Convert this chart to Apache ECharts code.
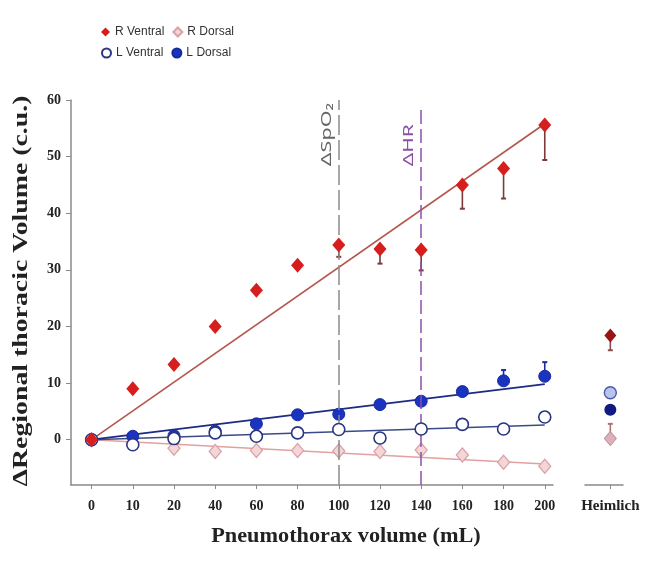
<!DOCTYPE html>
<html>
<head>
<meta charset="utf-8">
<script src="https://cdn.jsdelivr.net/npm/echarts@6/dist/echarts.min.js"></script>
<style>
html,body{margin:0;padding:0;background:#fff;}
#chart{width:645px;height:568px;}
</style>
</head>
<body>
<div id="chart"></div>
<script>
// ---- data ----
var categories = ['0','10','20','40','60','80','100','120','140','160','180','200'];
var yTicks = [0,10,20,30,40,50,60];
var rVentral = [0, 9.0, 13.3, 20.0, 26.4, 30.8, 34.4, 33.7, 33.5, 45.0, 47.9, 55.6];
var rVentralLow = [null, null, null, null, null, null, 32.3, 31.1, 29.9, 40.8, 42.6, 49.4];
var rDorsal = [0, -0.6, -1.5, -2.1, -1.9, -1.9, -2.0, -2.1, -1.8, -2.7, -4.0, -4.7];
var lVentral = [0, -0.9, 0.2, 1.2, 0.6, 1.2, 1.8, 0.3, 1.9, 2.7, 1.9, 4.0];
var lDorsal = [0, 0.6, 0.7, 1.5, 2.8, 4.4, 4.5, 6.2, 6.8, 8.5, 10.4, 11.2];
var lDorsalHigh = [null, null, null, null, null, null, null, null, null, null, 12.3, 13.7];
// regression line end values (at 0 and at 200 mL)
var fitRVentral = [0, 55.8];
var fitRDorsal = [0, -4.3];
var fitLVentral = [0, 2.6];
var fitLDorsal = [0, 9.8];
// Heimlich values
var heimlich = {rVentral: 18.4, rVentralLow: 15.8, lVentral: 8.3, lDorsal: 5.3, rDorsal: 0.2, rDorsalHigh: 2.8};
// event markers: category, top of line (value), label start (value)
var markers = [
  {name:'\u0394SpO\u2082', at:'100', top:60, labelAt:48.3, color:'#8a8a8a', textColor:'#666', dash:[20,5], fontSize:15, stretch:1.44},
  {name:'\u0394HR', at:'140', top:58.3, labelAt:48.3, color:'#8a50a8', textColor:'#8a50a8', dash:[14,5], fontSize:14, stretch:1.5}
];

// ---- build ----
function pts(arr){ return arr.map(function(v,i){ return [i, v]; }); }
function errs(vals, ends){
  var out = [];
  ends.forEach(function(e,i){ if(e!==null) out.push([i, vals[i], e]); });
  return out;
}
var last = categories.length - 1;
function fit(a){ return [[0, a[0]], [last, a[1]]]; }

function errRender(color){
  return function(params, api){
    var x = api.value(0), v = api.value(1), e = api.value(2);
    var p1 = api.coord([x, v]), p2 = api.coord([x, e]);
    return {type:'group', children:[
      {type:'line', shape:{x1:p1[0], y1:p1[1], x2:p2[0], y2:p2[1]}, style:{stroke:color, lineWidth:1.6}},
      {type:'line', shape:{x1:p2[0]-2.5, y1:p2[1], x2:p2[0]+2.5, y2:p2[1]}, style:{stroke:color, lineWidth:2}}
    ]};
  };
}

var serif = 'Liberation Serif, Times New Roman, serif';
var axisLineStyle = {color:'#8a8a8a', width:1.5};
var mkIdx = function(c){ return categories.indexOf(c); };
var idx = categories.map(function(c,i){return i;});

var option = {
  backgroundColor:'#fff',
  animation:false,
  legend:[
    {left:96, top:21, itemWidth:9, itemHeight:9, itemGap:8, selectedMode:false,
     textStyle:{fontFamily:'Liberation Sans, Arial, sans-serif', fontSize:12, color:'#333'},
     data:['R Ventral','R Dorsal']},
    {left:96, top:42, itemWidth:9, itemHeight:9, itemGap:8, selectedMode:false,
     textStyle:{fontFamily:'Liberation Sans, Arial, sans-serif', fontSize:12, color:'#333'},
     data:['L Ventral','L Dorsal']}
  ],
  grid:[
    {left:71, top:100, width:482, height:385, outerBoundsMode:'none', containLabel:false},
    {left:585, top:100, width:38, height:385, outerBoundsMode:'none', containLabel:false}
  ],
  xAxis:[
    {type:'value', gridIndex:0, min:-0.5, max:11.2,
     axisLine:{show:true, onZero:false, lineStyle:axisLineStyle},
     axisTick:{show:true, customValues:idx, length:4, lineStyle:{color:'#8a8a8a'}},
     axisLabel:{customValues:idx, formatter:function(v){return categories[Math.round(v)];},
                fontFamily:serif, fontWeight:'bold', fontSize:14, color:'#222', margin:14},
     splitLine:{show:false}},
    {type:'value', gridIndex:1, min:-1, max:0.5,
     axisLine:{show:true, onZero:false, lineStyle:axisLineStyle},
     axisTick:{show:true, customValues:[0], length:4, lineStyle:{color:'#8a8a8a'}},
     axisLabel:{customValues:[0], formatter:function(){return 'Heimlich';},
                fontFamily:serif, fontWeight:'bold', fontSize:15, color:'#222', margin:14},
     splitLine:{show:false}}
  ],
  yAxis:[
    {type:'value', gridIndex:0, min:-8, max:60,
     axisLine:{show:true, onZero:false, lineStyle:axisLineStyle},
     axisTick:{show:true, customValues:yTicks, length:5, lineStyle:{color:'#8a8a8a'}},
     axisLabel:{customValues:yTicks, fontFamily:serif, fontWeight:'bold', fontSize:14, color:'#222', margin:10},
     splitLine:{show:false}},
    {type:'value', gridIndex:1, min:-8, max:60, show:false}
  ],
  graphic:[
    {type:'text', id:'ytitle', x:22, y:291, rotation:Math.PI/2, scaleX:1.39,
     style:{text:'\u0394Regional thoracic Volume (c.u.)', font:'bold 20px ' + serif, fill:'#222',
            textAlign:'center', textVerticalAlign:'middle'}},
    {type:'text', id:'xtitle', x:346, y:537, scaleX:1.06,
     style:{text:'Pneumothorax volume (mL)', font:'bold 21px ' + serif, fill:'#222',
            textAlign:'center', textVerticalAlign:'middle'}}
  ],
  series:[
    // regression lines
    {type:'line', name:'fitRV', data:fit(fitRVentral), symbol:'none', lineStyle:{color:'#b5564e', width:1.6}, z:1, silent:true},
    {type:'line', name:'fitRD', data:fit(fitRDorsal), symbol:'none', lineStyle:{color:'#e2a0a0', width:1.6}, z:1, silent:true},
    {type:'line', name:'fitLV', data:fit(fitLVentral), symbol:'none', lineStyle:{color:'#3a4a88', width:1.6}, z:1, silent:true},
    {type:'line', name:'fitLD', data:fit(fitLDorsal), symbol:'none', lineStyle:{color:'#1c2a88', width:1.8}, z:1, silent:true,
     markLine:{silent:true, symbol:'none', label:{show:false},
       data: markers.map(function(m){
         return [
           {coord:[mkIdx(m.at), -8], lineStyle:{color:m.color, width:1.5, type:m.dash}},
           {coord:[mkIdx(m.at), m.top]}
         ];
       })}},
    // error bars
    {type:'custom', name:'errRV', data:errs(rVentral, rVentralLow), renderItem:errRender('#7a3a3a'), z:2, encode:{x:0, y:[1,2]}, silent:true},
    {type:'custom', name:'errLD', data:errs(lDorsal, lDorsalHigh), renderItem:errRender('#1a2aa0'), z:2, encode:{x:0, y:[1,2]}, silent:true},
    // points
    {type:'scatter', name:'R Dorsal', data:pts(rDorsal), symbol:'diamond', symbolSize:[12,14],
     itemStyle:{color:'#f4d6d6', borderColor:'#d9a2aa', borderWidth:1.3, opacity:1}, z:3},
    {type:'scatter', name:'L Dorsal', data:pts(lDorsal), symbol:'circle', symbolSize:12,
     itemStyle:{color:'#1a33c0', borderColor:'#1a2a9a', borderWidth:1, opacity:1}, z:4},
    {type:'scatter', name:'L Ventral', data:pts(lVentral), symbol:'circle', symbolSize:12,
     itemStyle:{color:'#ffffff', borderColor:'#2b3580', borderWidth:1.6, opacity:1}, z:5},
    {type:'scatter', name:'R Ventral', data:pts(rVentral), symbol:'diamond', symbolSize:[13,15],
     itemStyle:{color:'#d61e1e', opacity:1}, z:6},
    // Heimlich panel
    {type:'custom', name:'errH', xAxisIndex:1, yAxisIndex:1,
     data:[[0, heimlich.rVentral, heimlich.rVentralLow]], renderItem:errRender('#8a5050'), encode:{x:0, y:[1,2]}, z:2, silent:true},
    {type:'custom', name:'errH2', xAxisIndex:1, yAxisIndex:1,
     data:[[0, heimlich.rDorsal, heimlich.rDorsalHigh]], renderItem:errRender('#b07070'), encode:{x:0, y:[1,2]}, z:2, silent:true},
    {type:'scatter', name:'H R Ventral', xAxisIndex:1, yAxisIndex:1, data:[[0, heimlich.rVentral]], symbol:'diamond', symbolSize:[12,14],
     itemStyle:{color:'#9b1414', opacity:1}, z:6},
    {type:'scatter', name:'H L Ventral', xAxisIndex:1, yAxisIndex:1, data:[[0, heimlich.lVentral]], symbol:'circle', symbolSize:12,
     itemStyle:{color:'#b8c4ea', borderColor:'#4a5aa8', borderWidth:1.4, opacity:1}, z:5},
    {type:'scatter', name:'H L Dorsal', xAxisIndex:1, yAxisIndex:1, data:[[0, heimlich.lDorsal]], symbol:'circle', symbolSize:12,
     itemStyle:{color:'#101a80', opacity:1}, z:4},
    {type:'scatter', name:'H R Dorsal', xAxisIndex:1, yAxisIndex:1, data:[[0, heimlich.rDorsal]], symbol:'diamond', symbolSize:[12,14],
     itemStyle:{color:'#dcb2ba', borderColor:'#c0909a', borderWidth:1, opacity:1}, z:3}
  ]
};
var chart = echarts.init(document.getElementById('chart'));
chart.setOption(option);
// marker labels placed through the chart's own scales
var labelGraphics = markers.map(function(m, k){
  var p = chart.convertToPixel({gridIndex:0}, [mkIdx(m.at), m.labelAt]);
  return {type:'text', id:'mk'+k, x:p[0]-12, y:p[1], rotation:Math.PI/2, scaleX:m.stretch,
          style:{text:m.name, font:m.fontSize + 'px "Noto Sans", sans-serif', fill:m.textColor,
                 textAlign:'left', textVerticalAlign:'middle'}};
});
chart.setOption({graphic:labelGraphics});
</script>
</body>
</html>
